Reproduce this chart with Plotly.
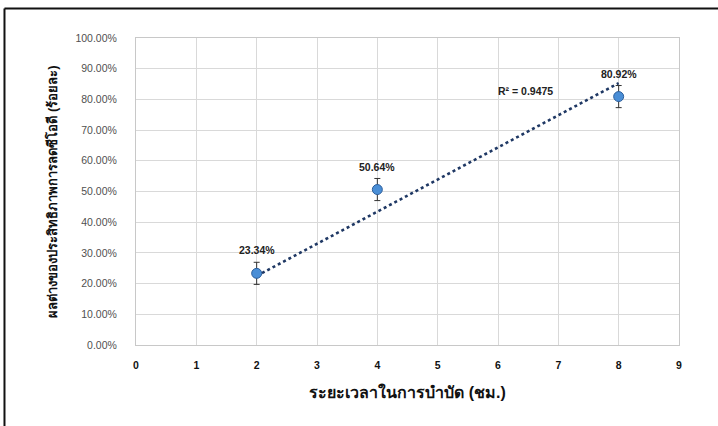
import plotly.graph_objects as go

# Data
hours = [2, 4, 8]
efficiency = [23.34, 50.64, 80.92]
error = [3.6, 3.6, 3.6]
labels = ["23.34%", "50.64%", "80.92%"]
trend_x = [2, 8]
trend_y = [22.5, 85.3]
r2_text = "R² = 0.9475"
x_ticks = [0, 1, 2, 3, 4, 5, 6, 7, 8, 9]
y_ticks = [0, 10, 20, 30, 40, 50, 60, 70, 80, 90, 100]
y_ticktext = [f"{v:.2f}%" for v in y_ticks]
x_title = "ระยะเวลาในการบำบัด (ชม.)"
y_title = "ผลต่างของประสิทธิภาพการลดซีโอดี (ร้อยละ)"

FONT = "Liberation Sans, Arial, Noto Sans, sans-serif"

fig = go.Figure()
fig.add_trace(go.Scatter(
    x=trend_x, y=trend_y, mode="lines",
    line=dict(color="#1f3864", width=2.6, dash="dot"),
    hoverinfo="skip", showlegend=False,
))
fig.add_trace(go.Scatter(
    x=hours, y=efficiency, mode="markers",
    marker=dict(size=10, color="#4a8ed6", line=dict(color="#2d5f9c", width=1)),
    error_y=dict(type="data", array=error, visible=True, color="#333333",
                 thickness=1, width=3),
    showlegend=False,
))

for xv, yv, t in zip(hours, efficiency, labels):
    fig.add_annotation(x=xv, y=yv, text=t, showarrow=False, yshift=23,
                       font=dict(family=FONT, size=10.5, color="#222222", weight="bold"))
fig.add_annotation(x=6.45, y=82.7, text=r2_text, showarrow=False,
                   font=dict(family=FONT, size=10.5, color="#222222", weight="bold"))

# outer frame (top and left edges visible)
fig.add_shape(type="line", xref="paper", yref="paper",
              x0=-0.2422, x1=1.2, y0=1.0961, y1=1.0961,
              line=dict(color="#111111", width=2))
fig.add_shape(type="line", xref="paper", yref="paper",
              x0=-0.2422, x1=-0.2422, y0=1.0961, y1=-0.35,
              line=dict(color="#111111", width=2))

fig.update_layout(
    width=718, height=426,
    margin=dict(l=136, r=39, t=38, b=81, autoexpand=False),
    paper_bgcolor="white", plot_bgcolor="white",
    font=dict(family=FONT),
    xaxis=dict(
        range=[0, 9], tickvals=x_ticks, showgrid=True, gridcolor="#d9d9d9",
        gridwidth=1, zeroline=False, showline=True, linecolor="#c8c8c8",
        mirror=True, ticks="", ticklabelstandoff=10,
        tickfont=dict(family=FONT, size=10.5, color="#111111", weight="bold"),
        title=dict(text=x_title, standoff=17,
                   font=dict(family=FONT, size=16, color="#111111", weight="bold")),
    ),
    yaxis=dict(
        range=[0, 100], tickvals=y_ticks, ticktext=y_ticktext,
        showgrid=True, gridcolor="#d9d9d9", gridwidth=1, zeroline=False,
        showline=True, linecolor="#c8c8c8", mirror=True, ticks="",
        ticklabelstandoff=16,
        tickfont=dict(family=FONT, size=10.5, color="#505050"),
        title=dict(text=y_title, standoff=14,
                   font=dict(family=FONT, size=13, color="#111111", weight="bold")),
    ),
)

fig.write_html("out.html", post_script="document.body.style.margin='0';",
               config={"displayModeBar": False})
